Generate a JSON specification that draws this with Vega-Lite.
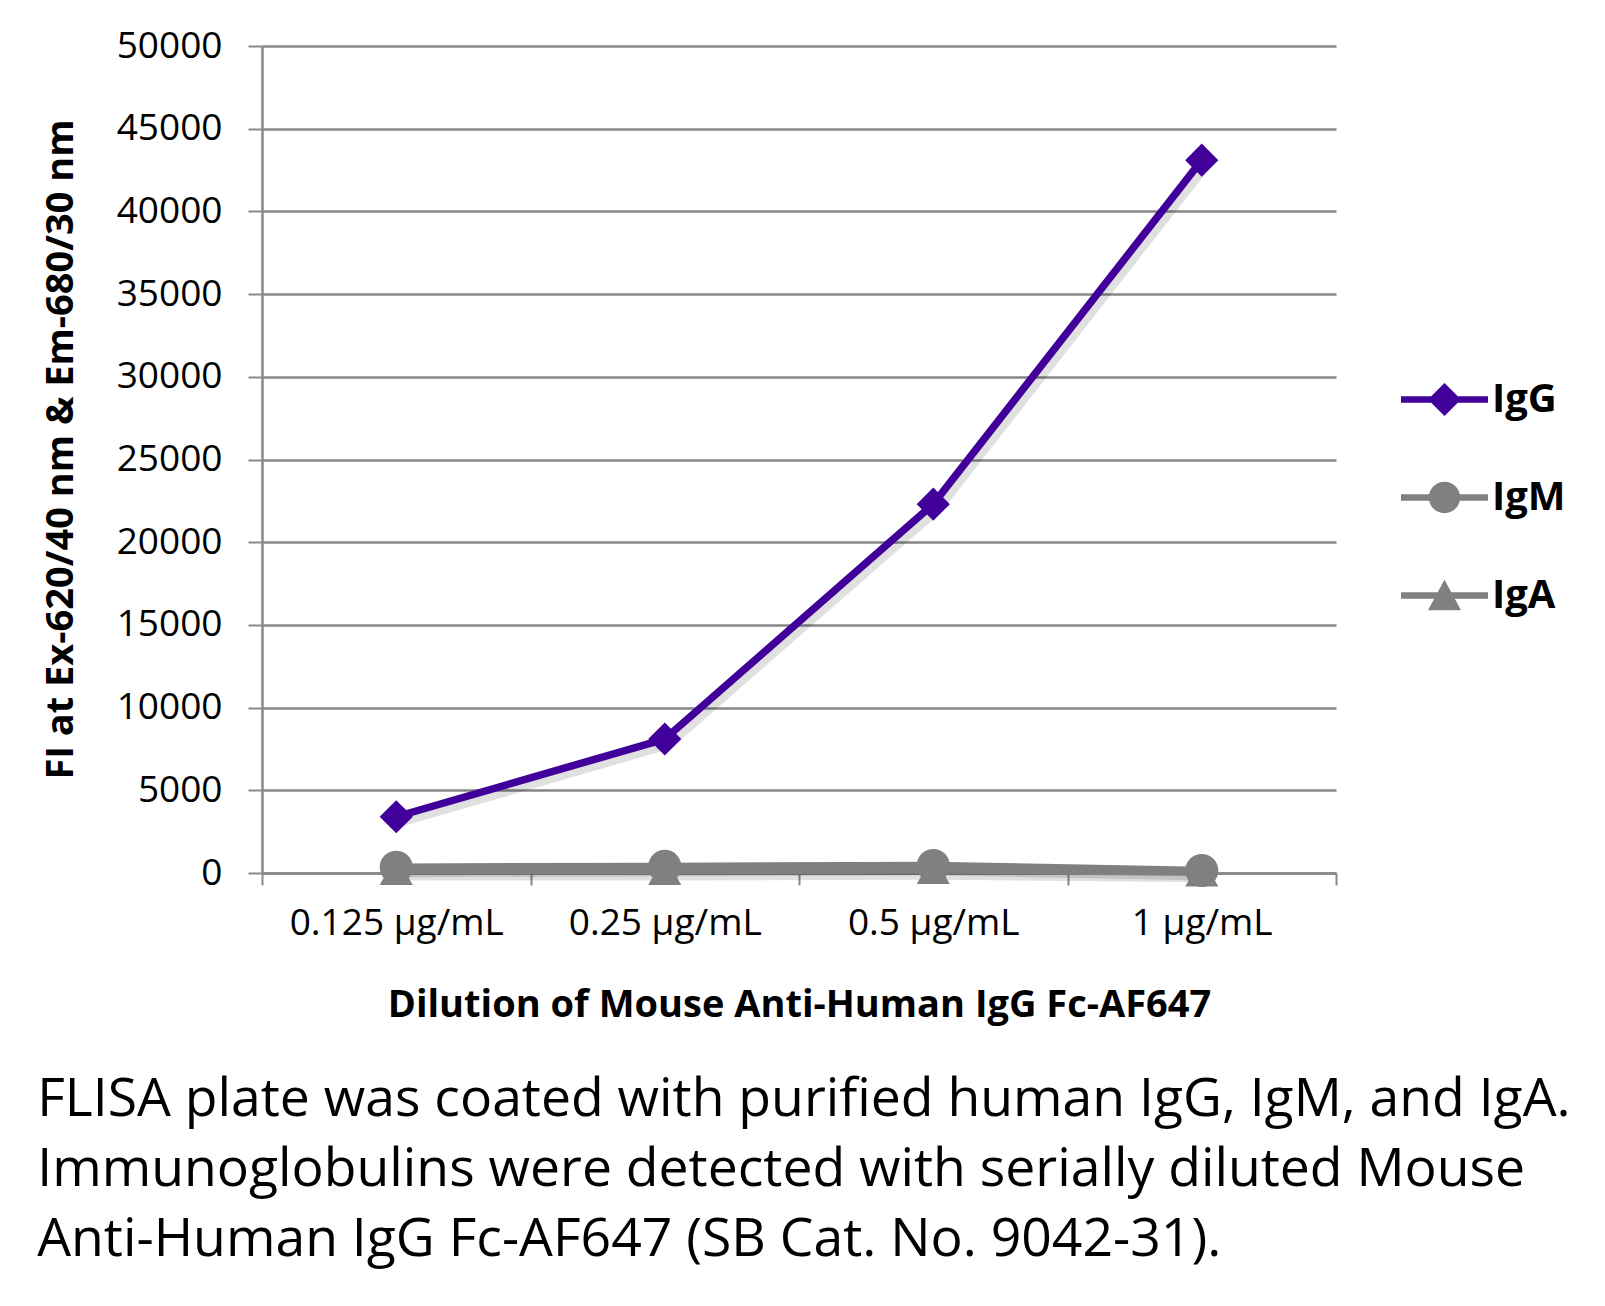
{
  "$schema": "https://vega.github.io/schema/vega-lite/v6.json",
  "width": 1074,
  "height": 827,
  "autosize": {"type": "none"},
  "padding": {"left": 262, "top": 46, "right": 269, "bottom": 433},
  "background": "white",
  "config": {"font": "Open Sans", "view": {"stroke": null}},
  "title": {
    "text": ["FLISA plate was coated with purified human IgG, IgM, and IgA.", "Immunoglobulins were detected with serially diluted Mouse", "Anti-Human IgG Fc-AF647 (SB Cat. No. 9042-31)."],
    "orient": "bottom",
    "anchor": "start",
    "frame": "bounds",
    "font": "Open Sans",
    "fontSize": 53.5,
    "fontWeight": "normal",
    "lineHeight": 70,
    "offset": 50,
    "color": "black",
    "dx": -5
  },
  "data": {
    "values": [
      {"dose": "0.125 µg/mL", "series": "IgG", "fi": 3400},
      {"dose": "0.25 µg/mL", "series": "IgG", "fi": 8100},
      {"dose": "0.5 µg/mL", "series": "IgG", "fi": 22300},
      {"dose": "1 µg/mL", "series": "IgG", "fi": 43100},
      {"dose": "0.125 µg/mL", "series": "IgA", "fi": 150},
      {"dose": "0.25 µg/mL", "series": "IgA", "fi": 150},
      {"dose": "0.5 µg/mL", "series": "IgA", "fi": 200},
      {"dose": "1 µg/mL", "series": "IgA", "fi": 50},
      {"dose": "0.125 µg/mL", "series": "IgM", "fi": 350},
      {"dose": "0.25 µg/mL", "series": "IgM", "fi": 400},
      {"dose": "0.5 µg/mL", "series": "IgM", "fi": 450},
      {"dose": "1 µg/mL", "series": "IgM", "fi": 150}
    ]
  },
  "encoding": {
    "x": {
      "field": "dose",
      "type": "ordinal",
      "sort": ["0.125 µg/mL", "0.25 µg/mL", "0.5 µg/mL", "1 µg/mL"],
      "scale": {"type": "band", "paddingInner": 0, "paddingOuter": 0},
      "axis": {
        "title": "Dilution of Mouse Anti-Human IgG Fc-AF647",
        "titleFontSize": 38,
        "titleFontWeight": "bold",
        "titleColor": "black",
        "titlePadding": 45,
        "labelAngle": 0,
        "labelFontSize": 37,
        "labelLimit": 500,
        "labelColor": "black",
        "labelPadding": 20,
        "tickBand": "extent",
        "tickSize": 12,
        "tickColor": "#888888",
        "tickWidth": 2,
        "domainColor": "#888888",
        "domainWidth": 2.5,
        "grid": false
      }
    },
    "y": {
      "field": "fi",
      "type": "quantitative",
      "scale": {"domain": [0, 50000]},
      "axis": {
        "title": "FI at Ex-620/40 nm & Em-680/30 nm",
        "titleFontSize": 38,
        "titleFontWeight": "bold",
        "titleColor": "black",
        "titlePadding": 36,
        "titleY": 403,
        "values": [0, 5000, 10000, 15000, 20000, 25000, 30000, 35000, 40000, 45000, 50000],
        "format": "d",
        "labelFontSize": 37,
        "labelColor": "black",
        "labelPadding": 26,
        "tickSize": 14,
        "tickColor": "#888888",
        "tickWidth": 2,
        "gridColor": "#878787",
        "gridWidth": 2.5,
        "domainColor": "#888888",
        "domainWidth": 2.5
      }
    }
  },
  "layer": [
    {
      "mark": {"type": "line", "strokeWidth": 10, "strokeJoin": "round", "strokeCap": "round", "color": "#000000", "opacity": 0.12, "xOffset": 4, "yOffset": 5},
      "encoding": {"detail": {"field": "series", "type": "nominal"}}
    },
    {
      "mark": {"type": "line", "strokeWidth": 7.5, "strokeJoin": "round", "strokeCap": "round"},
      "encoding": {
        "color": {
          "field": "series",
          "type": "nominal",
          "scale": {"domain": ["IgG", "IgM", "IgA"], "range": ["#41009A", "#808080", "#808080"]},
          "legend": {
            "orient": "none",
            "legendX": 1139,
            "legendY": 310,
            "title": null,
            "labelFontSize": 40,
            "labelFontWeight": "bold",
            "labelColor": "black",
            "symbolSize": 7569,
            "rowPadding": 34,
            "labelOffset": 4,
            "symbolStrokeWidth": 0,
            "encode": {
              "symbols": {
                "update": {
                  "shape": {"signal": "datum.value === 'IgG' ? 'M-1,-0.075L1,-0.075L1,0.075L-1,0.075Z M0,-0.38L0.38,0L0,0.38L-0.38,0Z' : datum.value === 'IgM' ? 'M-1,-0.075L1,-0.075L1,0.075L-1,0.075Z M0.36,0A0.36,0.36 0 1,1 -0.36,0A0.36,0.36 0 1,1 0.36,0Z' : 'M-1,-0.075L1,-0.075L1,0.075L-1,0.075Z M0,-0.36L0.38,0.34L-0.38,0.34Z'"},
                  "fill": {"scale": "color", "field": "value"},
                  "stroke": {"value": "transparent"},
                  "opacity": {"value": 1}
                }
              }
            }
          }
        }
      }
    },
    {
      "mark": {"type": "point", "filled": true, "opacity": 1, "size": 1100},
      "encoding": {
        "shape": {"condition": [{"test": "datum.series === 'IgG'", "value": "diamond"}, {"test": "datum.series === 'IgA'", "value": "triangle-up"}], "value": "circle"},
        "color": {"condition": {"test": "datum.series === 'IgG'", "value": "#41009A"}, "value": "#808080"}
      }
    }
  ]
}
